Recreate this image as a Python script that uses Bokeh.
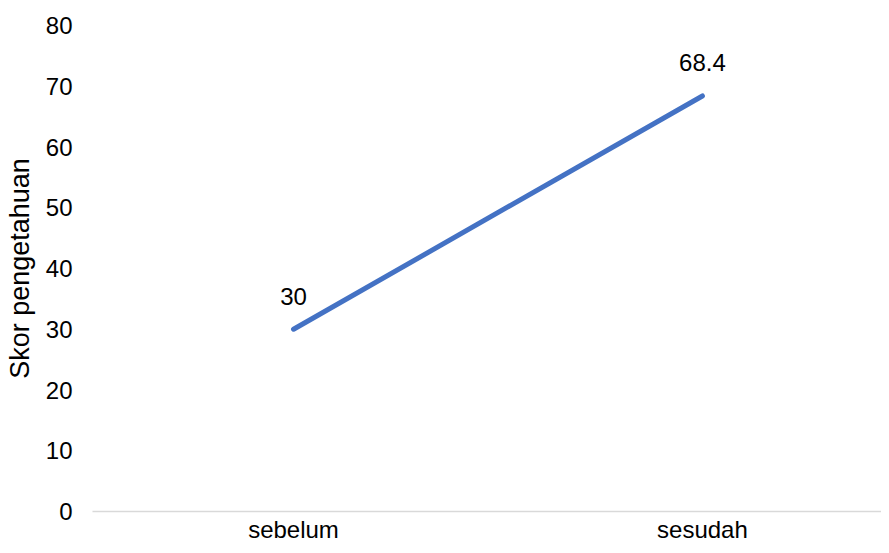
from bokeh.plotting import figure
from bokeh.models import Range1d, FixedTicker, ColumnDataSource
from bokeh.embed import file_html
from bokeh.resources import INLINE
from bokeh.core.properties import value

categories = ["sebelum", "sesudah"]
scores = [30, 68.4]
y_ticks = [0, 10, 20, 30, 40, 50, 60, 70, 80]
y_label = "Skor pengetahuan"

FONT = "Liberation Sans"
xs = [i + 0.5 for i in range(len(categories))]
labels = [f"{v:g}" for v in scores]
src = ColumnDataSource(dict(x=xs, y=scores, label=labels))

p = figure(width=881, height=545, output_backend="svg", toolbar_location=None,
           x_range=Range1d(0.0084, 1.938), y_range=Range1d(0, 80),
           min_border_left=92, min_border_top=25, min_border_bottom=30, min_border_right=0)
p.outline_line_color = None
p.xgrid.visible = False
p.ygrid.visible = False

p.line("x", "y", source=src, line_color="#4472C4", line_width=5, line_cap="round")
p.text("x", "y", text="label", source=src, text_align="center", text_baseline="alphabetic",
       y_offset=-33, text_font=value(FONT), text_font_size="24px", text_color="#000000")

p.xaxis.ticker = FixedTicker(ticks=xs)
p.xaxis.major_label_overrides = {x: c for x, c in zip(xs, categories)}
p.xaxis.axis_line_color = "#D9D9D9"
p.xaxis.axis_line_width = 1.5
p.xaxis.major_tick_line_color = None
p.xaxis.minor_tick_line_color = None
p.xaxis.major_tick_out = 0
p.xaxis.major_tick_in = 0
p.xaxis.major_label_standoff = 4
p.xaxis.major_label_text_font = FONT
p.xaxis.major_label_text_font_size = "24px"
p.xaxis.major_label_text_color = "#000000"

p.yaxis.ticker = FixedTicker(ticks=y_ticks)
p.yaxis.axis_line_color = None
p.yaxis.major_tick_line_color = None
p.yaxis.minor_tick_line_color = None
p.yaxis.major_tick_out = 0
p.yaxis.major_tick_in = 0
p.yaxis.major_label_standoff = 20
p.yaxis.major_label_text_font = FONT
p.yaxis.major_label_text_font_size = "24px"
p.yaxis.major_label_text_color = "#000000"
p.yaxis.axis_label = y_label
p.yaxis.axis_label_standoff = 8
p.yaxis.axis_label_text_font = FONT
p.yaxis.axis_label_text_font_size = "27px"
p.yaxis.axis_label_text_font_style = "normal"
p.yaxis.axis_label_text_color = "#000000"

open("out.html", "w").write(file_html(p, INLINE))
